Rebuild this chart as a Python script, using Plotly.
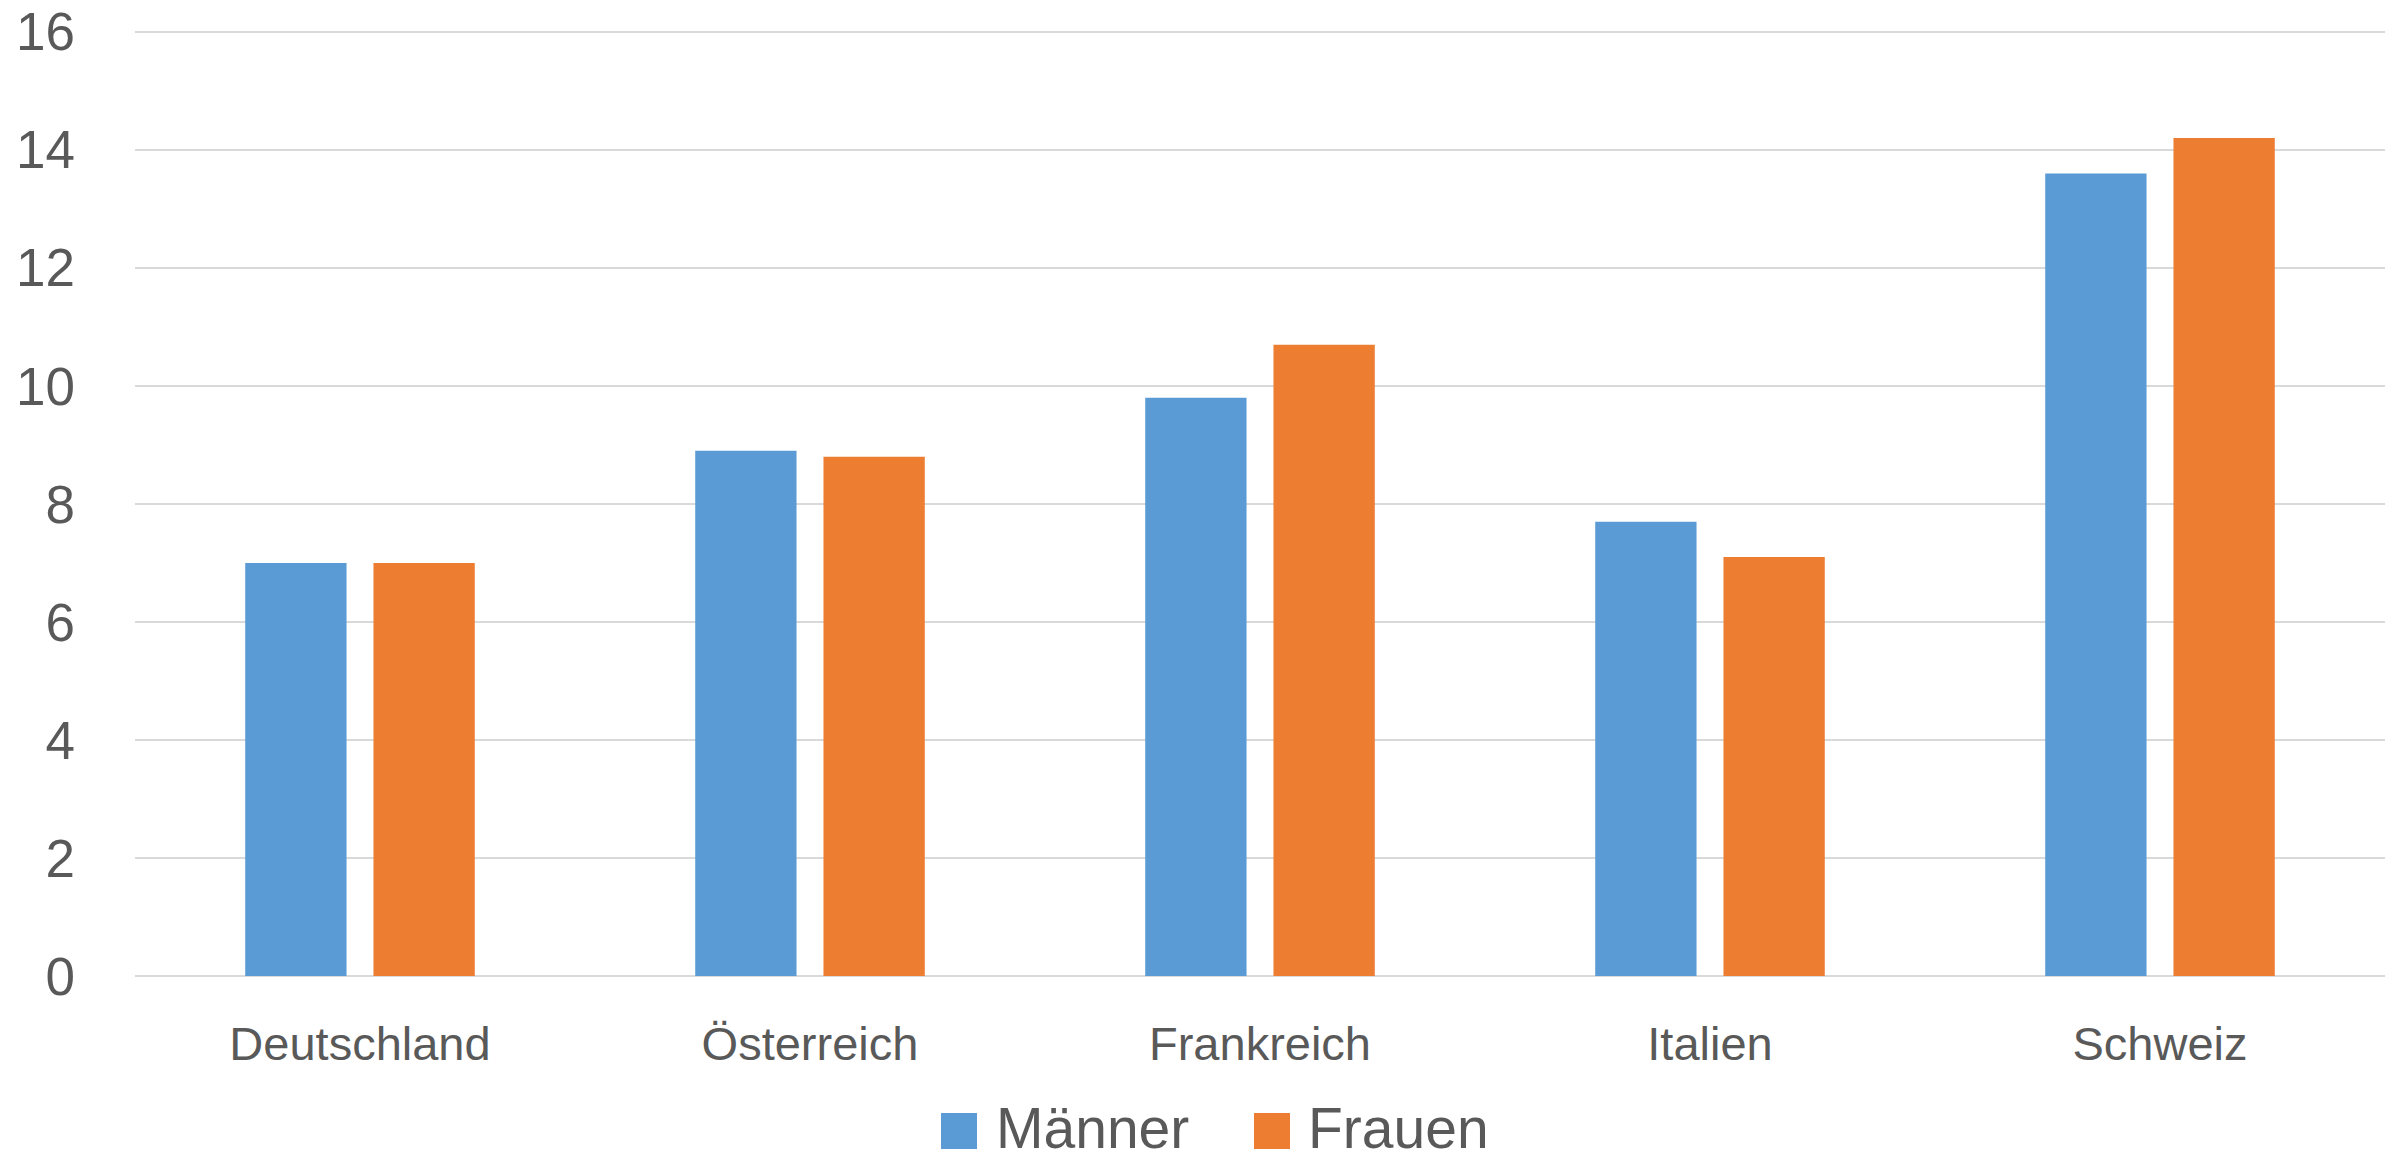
import plotly.graph_objects as go

countries = ["Deutschland", "Österreich", "Frankreich", "Italien", "Schweiz"]
series_names = ["Männer", "Frauen"]
maenner = [7.0, 8.9, 9.8, 7.7, 13.6]
frauen = [7.0, 8.8, 10.7, 7.1, 14.2]
y_ticks = [0, 2, 4, 6, 8, 10, 12, 14, 16]
colors = ["#5B9BD5", "#ED7D31"]

TEXT = "#595959"
FONT = "Liberation Sans"

fig = go.Figure()
for name, vals, col in zip(series_names, [maenner, frauen], colors):
    fig.add_trace(go.Bar(x=countries, y=vals, name=name, marker=dict(color=col, line=dict(width=0)),
                         showlegend=False))

fig.update_layout(
    width=2400, height=1162,
    margin=dict(l=135, r=15, t=26, b=186, autoexpand=False),
    paper_bgcolor="white", plot_bgcolor="white",
    barmode="group", bargap=0.43, bargroupgap=0.21,
    font=dict(family=FONT, color=TEXT),
)
fig.update_yaxes(range=[0, 16.1], tickvals=y_ticks, ticktext=[str(t) for t in y_ticks],
                 showgrid=True, gridcolor="#D9D9D9", gridwidth=2,
                 zeroline=True, zerolinecolor="#D9D9D9", zerolinewidth=2,
                 showline=False, ticks="", ticklabelstandoff=59, ticklabeloverflow="allow",
                 automargin=False,
                 tickfont=dict(size=53, color=TEXT, family=FONT))
fig.update_xaxes(showgrid=False, showline=False, ticks="", ticklabelstandoff=36,
                 automargin=False,
                 tickfont=dict(size=47, color=TEXT, family=FONT))

# custom legend (large square swatches)
plot_l, plot_w = 135, 2250
plot_t, plot_b = 26, 1162 - 186
plot_h = plot_b - plot_t
def px(x):
    return (x - plot_l) / plot_w
def py(y):
    return (plot_b - y) / plot_h

legend_items = [(941, 998), (1254, 1310)]
sq = 36
yc = 1131
for (sx, tx), name, col in zip(legend_items, series_names, colors):
    fig.add_shape(type="rect", xref="paper", yref="paper",
                  x0=px(sx), x1=px(sx + sq), y0=py(yc - sq / 2), y1=py(yc + sq / 2),
                  fillcolor=col, line=dict(width=0))
    fig.add_annotation(xref="paper", yref="paper", x=px(tx - 4), y=py(yc - 3),
                       xanchor="left", yanchor="middle", showarrow=False,
                       text=name, font=dict(size=57, color=TEXT, family=FONT))

fig.write_html("out.html")
